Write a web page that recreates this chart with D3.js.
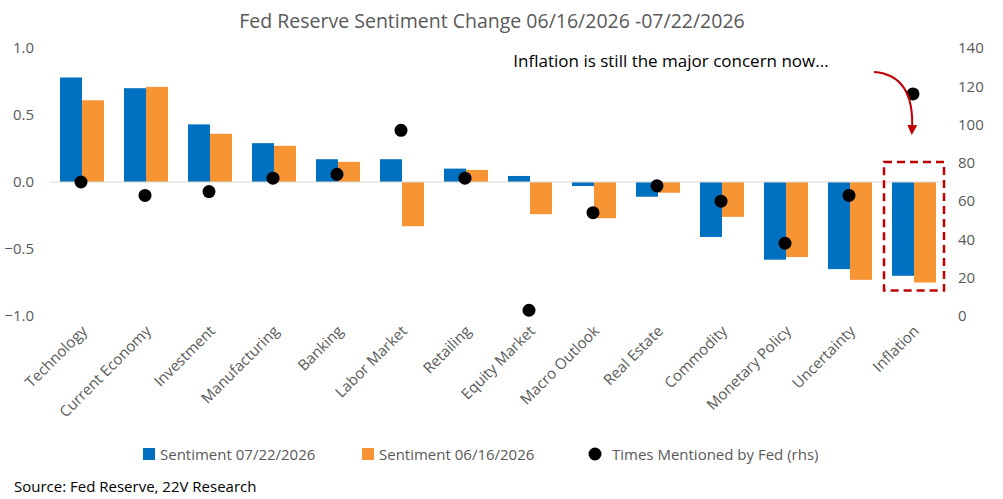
<!DOCTYPE html>
<html><head><meta charset="utf-8">
<script src="https://cdn.jsdelivr.net/npm/d3@7"></script>
<style>body{margin:0;background:#fff}text{font-family:"Open Sans",sans-serif}</style>
</head><body><svg id="chart" width="1003" height="499"></svg>
<script>
var categories = ["Technology","Current Economy","Investment","Manufacturing","Banking","Labor Market","Retailing","Equity Market","Macro Outlook","Real Estate","Commodity","Monetary Policy","Uncertainty","Inflation"];
var sentNew = [0.78,0.70,0.43,0.29,0.17,0.17,0.10,0.045,-0.03,-0.11,-0.41,-0.58,-0.65,-0.70];
var sentOld = [0.61,0.71,0.36,0.27,0.15,-0.33,0.09,-0.24,-0.27,-0.08,-0.26,-0.56,-0.73,-0.75];
var mentions = [70,63,65,72,74,97,72,3,54,68,60,38,63,116];
var leftTicks = [1.0,0.5,0.0,-0.5,-1.0];
var rightTicks = [0,20,40,60,80,100,120,140];

var svg = d3.select("#chart");
var x = d3.scaleBand().domain(categories).range([50,946]);
var y = d3.scaleLinear().domain([-1,1]).range([316,48]);
var y2 = d3.scaleLinear().domain([0,140]).range([316,48]);
var blue = "#0070C0", orange = "#F79433", grey = "#595959";
var ff = "'Open Sans',sans-serif";

svg.append("text").attr("x",492).attr("y",28).attr("text-anchor","middle")
  .attr("font-size",19.5).attr("fill",grey).text("Fed Reserve Sentiment Change 06/16/2026 -07/22/2026");

svg.append("g").attr("transform","translate(50,0)")
  .call(d3.axisLeft(y).tickValues(leftTicks).tickFormat(d3.format(".1f")).tickSize(0).tickPadding(16))
  .call(function(g){g.select(".domain").remove();g.selectAll("text").attr("font-size",15).attr("fill",grey).style("font-family",ff);});
svg.append("g").attr("transform","translate(946,0)")
  .call(d3.axisRight(y2).tickValues(rightTicks).tickSize(0).tickPadding(12))
  .call(function(g){g.select(".domain").remove();g.selectAll("text").attr("font-size",15).attr("fill",grey).style("font-family",ff);});

var bw = 22, off = (x.bandwidth()-2*bw)/2;
svg.selectAll(".bn").data(sentNew).enter().append("rect")
  .attr("x",function(d,i){return x(categories[i])+off;}).attr("width",bw)
  .attr("y",function(d){return y(Math.max(0,d));}).attr("height",function(d){return Math.abs(y(d)-y(0));}).attr("fill",blue);
svg.selectAll(".bo").data(sentOld).enter().append("rect")
  .attr("x",function(d,i){return x(categories[i])+off+bw;}).attr("width",bw)
  .attr("y",function(d){return y(Math.max(0,d));}).attr("height",function(d){return Math.abs(y(d)-y(0));}).attr("fill",orange);

svg.append("line").attr("x1",50).attr("x2",946).attr("y1",y(0)).attr("y2",y(0)).attr("stroke","#d9d9d9");

svg.selectAll(".dot").data(mentions).enter().append("circle")
  .attr("cx",function(d,i){return x(categories[i])+x.bandwidth()/2-1;}).attr("cy",function(d){return y2(d);})
  .attr("r",6.5).attr("fill","#000");

svg.selectAll(".xl").data(categories).enter().append("text")
  .attr("transform",function(d){return "translate("+(x(d)+x.bandwidth()/2+6)+",332) rotate(-45)";})
  .attr("text-anchor","end").attr("font-size",15).attr("fill",grey).text(function(d){return d;});

// highlight box
var last = categories[categories.length-1];
svg.append("rect").attr("x",x(last)+2).attr("width",x.bandwidth()-4)
  .attr("y",y(0.15)).attr("height",y(-0.81)-y(0.15))
  .attr("fill","none").attr("stroke","#C00000").attr("stroke-width",2.5).attr("stroke-dasharray","8,5");

svg.append("defs").append("marker").attr("id","ah").attr("viewBox","0 0 10 10").attr("refX",5).attr("refY",5)
  .attr("markerWidth",5).attr("markerHeight",5).attr("orient","auto")
  .append("path").attr("d","M0,0 L10,5 L0,10 z").attr("fill","#C00000");
svg.append("path").attr("d","M874,72 Q915,75 912,130").attr("fill","none").attr("stroke","#C00000")
  .attr("stroke-width",2).attr("marker-end","url(#ah)");
svg.append("text").attr("x",671).attr("y",67).attr("text-anchor","middle").attr("font-size",17).attr("fill","#000")
  .text("Inflation is still the major concern now...");

// legend
var lg = svg.append("g").attr("transform","translate(0,455)");
lg.append("rect").attr("x",143).attr("y",-7).attr("width",12).attr("height",12).attr("fill",blue);
lg.append("text").attr("x",160).attr("y",5).attr("font-size",15).attr("fill",grey).text("Sentiment 07/22/2026");
lg.append("rect").attr("x",362).attr("y",-7).attr("width",12).attr("height",12).attr("fill",orange);
lg.append("text").attr("x",379).attr("y",5).attr("font-size",15).attr("fill",grey).text("Sentiment 06/16/2026");
lg.append("circle").attr("cx",595).attr("cy",-1).attr("r",6.5).attr("fill","#000");
lg.append("text").attr("x",612).attr("y",5).attr("font-size",15).attr("fill",grey).text("Times Mentioned by Fed (rhs)");

svg.append("text").attr("x",14).attr("y",492).attr("font-size",15).attr("fill","#000").text("Source: Fed Reserve, 22V Research");
</script></body></html>
